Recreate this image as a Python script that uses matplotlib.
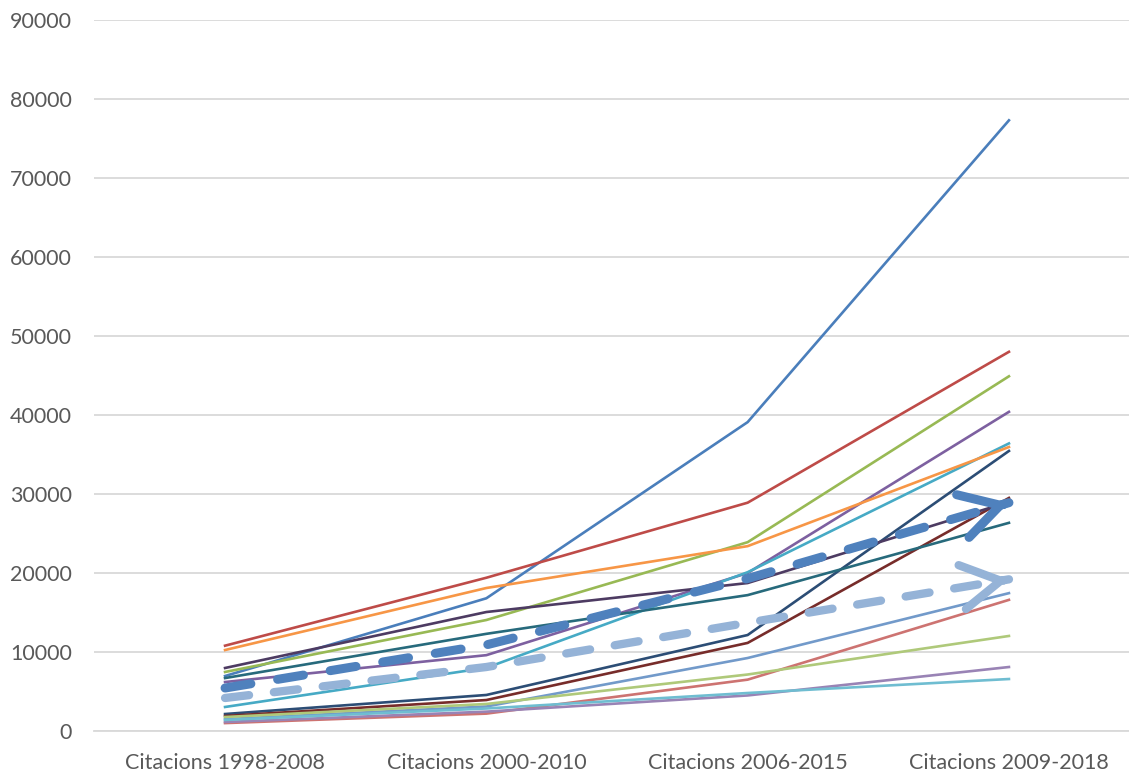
import matplotlib
matplotlib.use("Agg")
import matplotlib.pyplot as plt

plt.rcParams['font.family'] = ['Lato', 'DejaVu Sans']

categories = ["Citacions 1998-2008", "Citacions 2000-2010",
              "Citacions 2006-2015", "Citacions 2009-2018"]

# solid series (one per line, Excel default palette)
blue = [6960, 16800, 39100, 77300]
red = [10800, 19400, 28900, 48000]
green = [7470, 14050, 23900, 44900]
purple = [6200, 9600, 20000, 40400]
aqua = [3040, 8000, 20100, 36400]
orange = [10250, 18100, 23400, 35950]
dark_blue = [2150, 4560, 12150, 35450]
dark_red = [1900, 3920, 11150, 29500]
dark_purple = [7975, 15060, 18730, 29000]
teal = [6700, 12300, 17200, 26350]
light_blue = [1500, 3100, 9240, 17450]
light_red = [1000, 2200, 6500, 16600]
light_green = [1770, 3420, 7150, 12030]
light_purple = [1140, 2450, 4500, 8100]
light_aqua = [1400, 2850, 4810, 6580]

# thick dashed series with arrow ends
trend_dark = [5440, 10900, 19300, 28900]
trend_light = [4180, 8100, 13700, 19200]

solid = [
    (blue, "#4A7EBB"), (red, "#BE4B48"), (green, "#98B954"),
    (purple, "#7D60A0"), (aqua, "#46AAC5"), (orange, "#F79646"),
    (dark_blue, "#2C4D75"), (dark_red, "#772C2A"), (dark_purple, "#4D3B62"),
    (teal, "#276A7C"), (light_blue, "#729ACA"), (light_red, "#CD7371"),
    (light_green, "#AFC97A"), (light_purple, "#9983B5"), (light_aqua, "#6FBDD1"),
]

W, H = 1129, 773
fig = plt.figure(figsize=(W / 100, H / 100), dpi=100)
ax = fig.add_axes([94.4 / W, (H - 731) / H, 1045.2 / W, 711 / H])

x = range(len(categories))

for vals, col in solid:
    ax.plot(x, vals, color=col, lw=1.9, solid_joinstyle='round', zorder=3)

for vals, col, lw in [(trend_dark, "#4F81BD", 6.5), (trend_light, "#95B3D7", 6.0)]:
    ax.plot(x, vals, color=col, lw=lw, dashes=(2.9, 3.0),
            dash_capstyle='round', zorder=4)
    # open arrow head at the last point
    x0, y0 = 2, vals[2]
    x1, y1 = 3, vals[3]
    ax.annotate('', xy=(x1, y1), xytext=(x1 - 0.02 * (x1 - x0), y1 - 0.02 * (y1 - y0)),
                arrowprops=dict(arrowstyle='->,head_length=1.4,head_width=0.8',
                                color=col, lw=lw, mutation_scale=20,
                                capstyle='round', joinstyle='round',
                                shrinkA=0, shrinkB=0),
                zorder=5)

ax.set_xlim(-0.5, 3.5)
ax.set_ylim(0, 90000)
ax.set_yticks(range(0, 90001, 10000))
ax.set_xticks(list(x))
ax.set_xticklabels(categories)
ax.grid(axis='y', color='#D9D9D9', lw=1.3, zorder=0)
ax.set_axisbelow(True)
for s in ['top', 'right', 'left']:
    ax.spines[s].set_visible(False)
ax.spines['bottom'].set_color('#D9D9D9')
ax.spines['bottom'].set_linewidth(1.3)
ax.tick_params(length=0, labelsize=15.5, labelcolor='#595959')
ax.tick_params(axis='y', pad=16)
ax.tick_params(axis='x', pad=16)

fig.savefig("out.png", dpi=100)
